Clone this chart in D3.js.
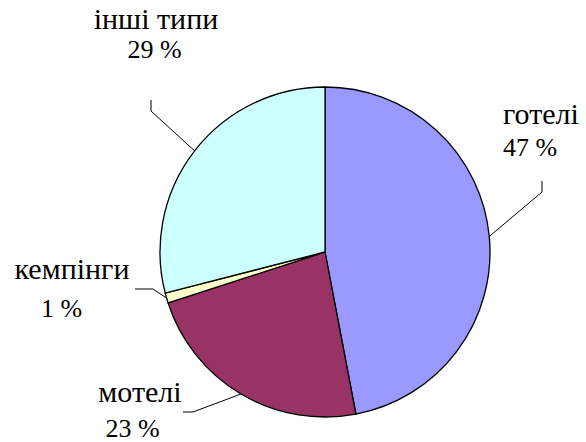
<!DOCTYPE html>
<html><head><meta charset="utf-8">
<script src="https://cdn.jsdelivr.net/npm/d3@7"></script>
<style>
body{margin:0;background:#fff}
svg{display:block}
</style>
</head><body>
<script>
const categories = ["готелі", "мотелі", "кемпінги", "інші типи"];
const values = [47, 23, 1, 29];
const valueLabels = ["47 %", "23 %", "1 %", "29 %"];
const colors = ["#9999FF", "#993366", "#FFFFCC", "#CCFFFF"];

const W = 586, H = 442, cx = 325, cy = 252, R = 165;
const svg = d3.select("body").append("svg").attr("width", W).attr("height", H)
  .attr("font-family", "Liberation Serif");
const pie = d3.pie().sort(null).value(d => d)(values);
const arc = d3.arc().innerRadius(0).outerRadius(R);
const labels = svg.append("g");
const g = svg.append("g").attr("transform", `translate(${cx},${cy})`);
g.selectAll("path").data(pie).join("path")
  .attr("d", arc).attr("fill", (d, i) => colors[i])
  .attr("stroke", "#000").attr("stroke-width", 1.3);

const layout = [
  {anchor: "start", x1: 503, x2: 503, y1: 124, y2: 156, elbow: [[542, 181], [542, 192]]},
  {anchor: "middle", x1: 140, x2: 132.5, y1: 402, y2: 437, elbow: [[183, 412], [193, 412]]},
  {anchor: "middle", x1: 72, x2: 61.5, y1: 279, y2: 317, elbow: [[135, 289], [153, 289]]},
  {anchor: "middle", x1: 156, x2: 154.5, y1: 29, y2: 58, elbow: [[151, 100], [151, 111]]}
];
const line = d3.line();
pie.forEach((d, i) => {
  const L = layout[i];
  const a = (d.startAngle + d.endAngle) / 2;
  const p = [cx + R * Math.sin(a), cy - R * Math.cos(a)];
  labels.append("path").attr("d", line([L.elbow[0], L.elbow[1], p]))
    .attr("fill", "none").attr("stroke", "#000").attr("stroke-width", 1);
  labels.append("text").attr("x", L.x1).attr("y", L.y1).attr("text-anchor", L.anchor)
    .attr("font-family", "Liberation Serif").attr("font-size", 30).attr("fill", "#000").text(categories[i]);
  labels.append("text").attr("x", L.x2).attr("y", L.y2).attr("text-anchor", L.anchor)
    .attr("font-family", "Liberation Serif").attr("font-size", 26).attr("fill", "#000").text(valueLabels[i]);
});
</script>
</body></html>
